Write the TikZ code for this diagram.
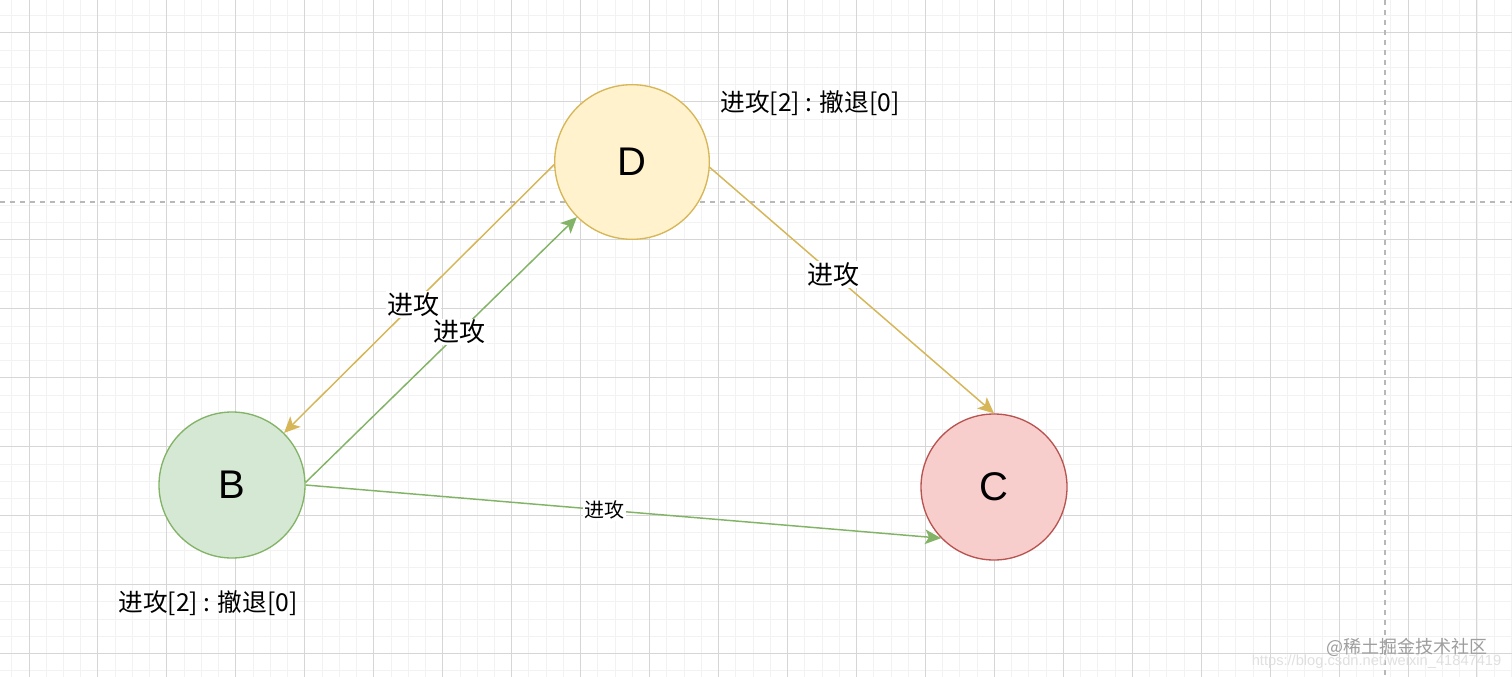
\documentclass[tikz,border=0pt]{standalone}
\usepackage{fontspec}
\setmainfont{Liberation Sans}
\newfontfamily\cjk{Noto Sans CJK SC}
\usetikzlibrary{arrows.meta}

\definecolor{gridminor}{HTML}{F2F2F2}
\definecolor{gridmajor}{HTML}{D6D6D6}
\definecolor{pageline}{HTML}{B8B8B8}
\definecolor{greenfill}{HTML}{D5E8D4}
\definecolor{greenline}{HTML}{82B366}
\definecolor{yellowfill}{HTML}{FFF2CC}
\definecolor{yellowline}{HTML}{D6B656}
\definecolor{redfill}{HTML}{F8CECC}
\definecolor{redline}{HTML}{B85450}

\tikzset{
  state/.style={circle, draw, line width=1pt, minimum size=109.5pt, inner sep=0pt,
    font=\fontsize{30}{30}\selectfont},
  move/.style={line width=1.1pt, -{Stealth[length=12pt,width=11pt,inset=3pt]}},
  movelabel/.style={fill=white, text=black, inner sep=1pt, font=\cjk\fontsize{19.5}{20}\selectfont},
  countlabel/.style={font=\cjk\fontsize{18.5}{20}\selectfont},
}

\begin{document}
\begin{tikzpicture}[x=0.75pt, y=-0.75pt]

    \useasboundingbox (0,0) rectangle (1512,677);
    \fill[white] (0,0) rectangle (1512,677);

    % background grid
    \foreach \k in {0,...,87}
        \draw[gridminor, line width=0.75pt] ({11.76+17.24*\k},0) -- ++(0,677);
    \foreach \k in {0,...,38}
        \draw[gridminor, line width=0.75pt] (0,{15.76+17.24*\k}) -- ++(1512,0);
    \foreach \k in {0,...,21}
        \draw[gridmajor, line width=0.75pt] ({29+68.95*\k},0) -- ++(0,677);
    \foreach \k in {0,...,9}
        \draw[gridmajor, line width=0.75pt] (0,{33+68.95*\k}) -- ++(1512,0);

    % page breaks
    \draw[pageline, line width=0.9pt, dash pattern=on 4pt off 3.5pt] (0,202) -- (1512,202);
    \draw[pageline, line width=0.9pt, dash pattern=on 4pt off 3.5pt] (1385,0) -- (1385,677);

    \node[state, fill=yellowfill, draw=yellowline, minimum size=116pt] (D) at (632,162) {D};
    \node[state, fill=greenfill, draw=greenline] (B) at (232,485) {B};
    \node[state, fill=redfill, draw=redline] (C) at (994,487) {C};

    \draw[move, yellowline] (D.182) -- node[movelabel, pos=0.52] {进攻} (B.45);
    \draw[move, greenline] (B.2) -- node[movelabel, pos=0.567] {进攻} (D.225);
    \draw[move, yellowline] (D.-4) -- node[movelabel, pos=0.436] {进攻} (C.90);
    \draw[move, greenline] (B.0) -- node[movelabel, pos=0.47, font=\cjk\fontsize{15}{16}\selectfont] {进攻} (C.224);

    \node[countlabel] (Dcount) at (810,103) {进攻[2] : 撤退[0]};
    \node[countlabel] (Bcount) at (208,603) {进攻[2] : 撤退[0]};

    % watermark
    \node[anchor=east, text=black!38, font=\cjk\fontsize{13.5}{14}\selectfont] (mark) at (1492,647) {@稀土掘金技术社区};
    \node[anchor=east, text=black!12, font=\fontsize{11}{12}\selectfont] (url) at (1506,662) {https://blog.csdn.net/weixin\_41847419};

\end{tikzpicture}
\end{document}
